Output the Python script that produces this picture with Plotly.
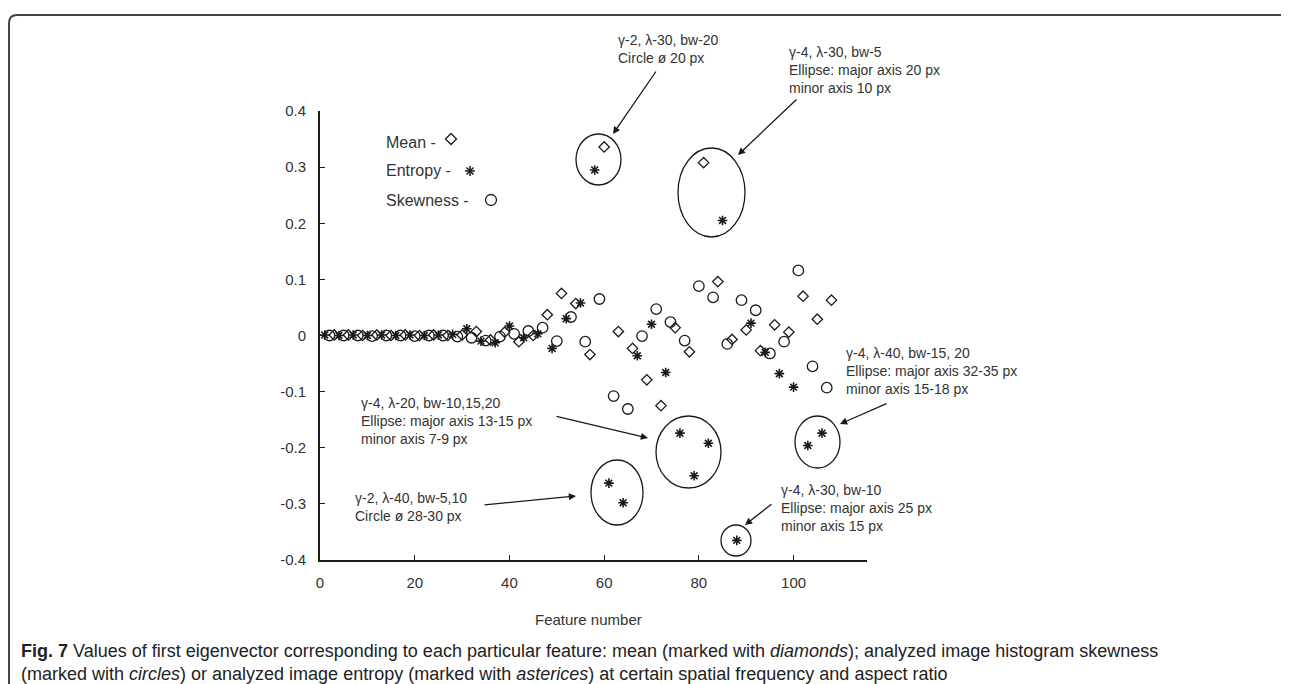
import plotly.graph_objects as go

# ---------------- data ----------------
entropy_x = list(range(1, 107, 3))
entropy_y = [0.001, 0.000, 0.001, 0.000, 0.001, 0.000, 0.001, 0.000, 0.001, 0.002,
             0.012, -0.010, -0.013, 0.017, -0.004, 0.003, -0.023, 0.030, 0.058, 0.295,
             -0.263, -0.298, -0.036, 0.020, -0.066, -0.174, -0.250, -0.192, 0.205, -0.365,
             0.022, -0.030, -0.068, -0.092, -0.196, -0.174]

skew_x = list(range(2, 108, 3))
skew_y = [0.000, 0.000, 0.000, -0.001, 0.000, 0.000, -0.001, 0.000, 0.000, -0.002,
          -0.004, -0.009, -0.002, 0.003, 0.008, 0.014, -0.010, 0.033, -0.011, 0.065,
          -0.108, -0.131, -0.001, 0.047, 0.024, -0.009, 0.088, 0.068, -0.015, 0.063,
          0.045, -0.032, -0.011, 0.116, -0.055, -0.093]

mean_x = list(range(3, 109, 3))
mean_y = [0.001, 0.001, 0.000, 0.001, 0.000, 0.001, 0.000, 0.001, 0.000, 0.001,
          0.007, -0.008, 0.006, -0.011, 0.000, 0.037, 0.075, 0.057, -0.034, 0.336,
          0.007, -0.023, -0.079, -0.125, 0.014, -0.029, 0.308, 0.096, -0.007, 0.010,
          -0.027, 0.019, 0.006, 0.070, 0.029, 0.063]

x_ticks = [0, 20, 40, 60, 80, 100]
x_tick_labels = ["0", "20", "40", "60", "80", "100"]
y_ticks = [0.4, 0.3, 0.2, 0.1, 0.0, -0.1, -0.2, -0.3, -0.4]
y_tick_labels = ["0.4", "0.3", "0.2", "0.1", "0", "-0.1", "-0.2", "-0.3", "-0.4"]

legend_labels = ["Mean -", "Entropy -", "Skewness -"]
x_title = "Feature number"
notes = [
    "γ-2, λ-30, bw-20<br>Circle ø 20 px",
    "γ-4, λ-30, bw-5<br>Ellipse: major axis 20 px<br>minor axis 10 px",
    "γ-4, λ-20, bw-10,15,20<br>Ellipse: major axis 13-15 px<br>minor axis 7-9 px",
    "γ-2, λ-40, bw-5,10<br>Circle ø 28-30 px",
    "γ-4, λ-30, bw-10<br>Ellipse: major axis 25 px<br>minor axis 15 px",
    "γ-4, λ-40, bw-15, 20<br>Ellipse: major axis 32-35 px<br>minor axis 15-18 px",
]
caption1 = ("<b>Fig. 7</b> Values of first eigenvector corresponding to each particular feature: "
            "mean (marked with <i>diamonds</i>); analyzed image histogram skewness")
caption2 = ("(marked with <i>circles</i>) or analyzed image entropy (marked with "
            "<i>asterices</i>) at certain spatial frequency and aspect ratio")

# ---------------- layout geometry ----------------
W, H = 1289, 684
L, T, RPX, BPX = 312, 103, 859, 552
PW, PH = RPX - L, BPX - T


def px(x):
    return (x - L) / PW


def py(y):
    return (BPX - y) / PH


INK = "#1a1a1a"
TXT = "#333333"
FONT = "Liberation Sans, Arial, sans-serif"

fig = go.Figure()
fig.add_trace(go.Scatter(x=mean_x, y=mean_y, mode="markers", name="Mean",
                         marker=dict(symbol="diamond-open", size=8, color=INK,
                                     line=dict(width=1.3, color=INK))))
fig.add_trace(go.Scatter(x=entropy_x, y=entropy_y, mode="markers", name="Entropy",
                         marker=dict(symbol="asterisk-open", size=8, color=INK,
                                     line=dict(width=1.6, color=INK))))
fig.add_trace(go.Scatter(x=skew_x, y=skew_y, mode="markers", name="Skewness",
                         marker=dict(symbol="circle-open", size=10.5, color=INK,
                                     line=dict(width=1.3, color=INK))))

shapes = []
annotations = []

# frame border
f_l, f_r, f_t, rad = 1, 1283, 7, 8
path = (f"M {px(f_l)},{py(H + 2)} L {px(f_l)},{py(f_t + rad)} "
        f"Q {px(f_l)},{py(f_t)} {px(f_l + rad)},{py(f_t)} "
        f"L {px(f_r - rad)},{py(f_t)} Q {px(f_r)},{py(f_t)} {px(f_r)},{py(f_t + rad)} "
        f"L {px(f_r)},{py(H + 2)}")
shapes.append(dict(type="path", xref="paper", yref="paper", path=path,
                   line=dict(color="#444444", width=2)))

# ellipses (pixel bounding boxes)
ellipses = [(568, 613, 126, 177), (670, 737, 140, 229), (648, 713, 408, 480),
            (583, 635, 452, 517), (713, 743, 517, 548), (787, 832, 408, 460)]
for x0, x1, y0, y1 in ellipses:
    shapes.append(dict(type="circle", xref="paper", yref="paper",
                       x0=px(x0), x1=px(x1), y0=py(y1), y1=py(y0),
                       line=dict(color=INK, width=1.3)))

# note texts (left x, centre y)
note_pos = [(608, 41), (779, 62), (351, 413.5), (345, 499), (771, 500), (836, 363)]
for txt, (xx, yy) in zip(notes, note_pos):
    annotations.append(dict(text=txt, xref="paper", yref="paper", x=px(xx), y=py(yy),
                            xanchor="left", yanchor="middle", align="left", showarrow=False,
                            font=dict(family=FONT, size=14, color=TXT)))

# arrows: (tail, head) in pixels
arrows = [((649, 62), (605, 126)), ((790, 90), (730, 147)), ((547, 408), (640, 430)),
          ((475, 497), (568, 488)), ((765, 495), (737, 517)), ((880, 395), (832, 416))]
for (tx, ty), (hx, hy) in arrows:
    annotations.append(dict(text="", xref="paper", yref="paper", x=px(hx), y=py(hy),
                            ax=tx - hx, ay=ty - hy, axref="pixel", ayref="pixel",
                            showarrow=True, arrowhead=2, arrowsize=1.1, arrowwidth=1.3,
                            arrowcolor=INK))

# legend
leg_y = [134, 163, 192]
for lab, yy in zip(legend_labels, leg_y):
    annotations.append(dict(text=lab, xref="paper", yref="paper", x=px(376), y=py(yy),
                            xanchor="left", yanchor="middle", showarrow=False,
                            font=dict(family=FONT, size=16, color=TXT)))
# legend symbols
cx, cy, r = 443, 131, 5.5
shapes.append(dict(type="path", xref="paper", yref="paper",
                   path=f"M {px(cx)},{py(cy - r)} L {px(cx + r)},{py(cy)} L {px(cx)},{py(cy + r)} "
                        f"L {px(cx - r)},{py(cy)} Z", line=dict(color=INK, width=1.3)))
cx, cy, r = 462, 163, 5
for dx, dy in [(r, 0), (0, r), (r * 0.7, r * 0.7), (r * 0.7, -r * 0.7)]:
    shapes.append(dict(type="line", xref="paper", yref="paper",
                       x0=px(cx - dx), y0=py(cy - dy), x1=px(cx + dx), y1=py(cy + dy),
                       line=dict(color=INK, width=1.5)))
cx, cy, r = 483, 192, 5.5
shapes.append(dict(type="circle", xref="paper", yref="paper",
                   x0=px(cx - r), x1=px(cx + r), y0=py(cy + r), y1=py(cy - r),
                   line=dict(color=INK, width=1.3)))

# axis title & caption
annotations.append(dict(text=x_title, xref="paper", yref="paper", x=px(580), y=py(611),
                        xanchor="center", yanchor="middle", showarrow=False,
                        font=dict(family=FONT, size=15, color=TXT)))
for cap, yy in [(caption1, 643), (caption2, 666)]:
    annotations.append(dict(text=cap, xref="paper", yref="paper", x=px(11), y=py(yy),
                            xanchor="left", yanchor="middle", showarrow=False,
                            font=dict(family="Liberation Sans, Arial, sans-serif",
                                      size=18, color="#222222")))

fig.update_layout(
    width=W, height=H,
    margin=dict(l=L, r=W - RPX, t=T, b=H - BPX, pad=0),
    paper_bgcolor="white", plot_bgcolor="white",
    showlegend=False,
    shapes=shapes, annotations=annotations,
    xaxis=dict(range=[0, 115.5], showline=True, linecolor=INK, linewidth=2,
               ticks="inside", ticklen=5, tickwidth=1.3, tickcolor=INK,
               tickvals=x_ticks, ticktext=x_tick_labels, showgrid=False, zeroline=False,
               tickfont=dict(family=FONT, size=15, color=TXT), ticklabelstandoff=8),
    yaxis=dict(range=[-0.4, 0.4], showline=True, linecolor=INK, linewidth=2,
               ticks="inside", ticklen=5, tickwidth=1.3, tickcolor=INK,
               tickvals=y_ticks, ticktext=y_tick_labels, showgrid=False, zeroline=False,
               tickfont=dict(family=FONT, size=15, color=TXT), ticklabelstandoff=9),
)

fig.write_html("out.html")
